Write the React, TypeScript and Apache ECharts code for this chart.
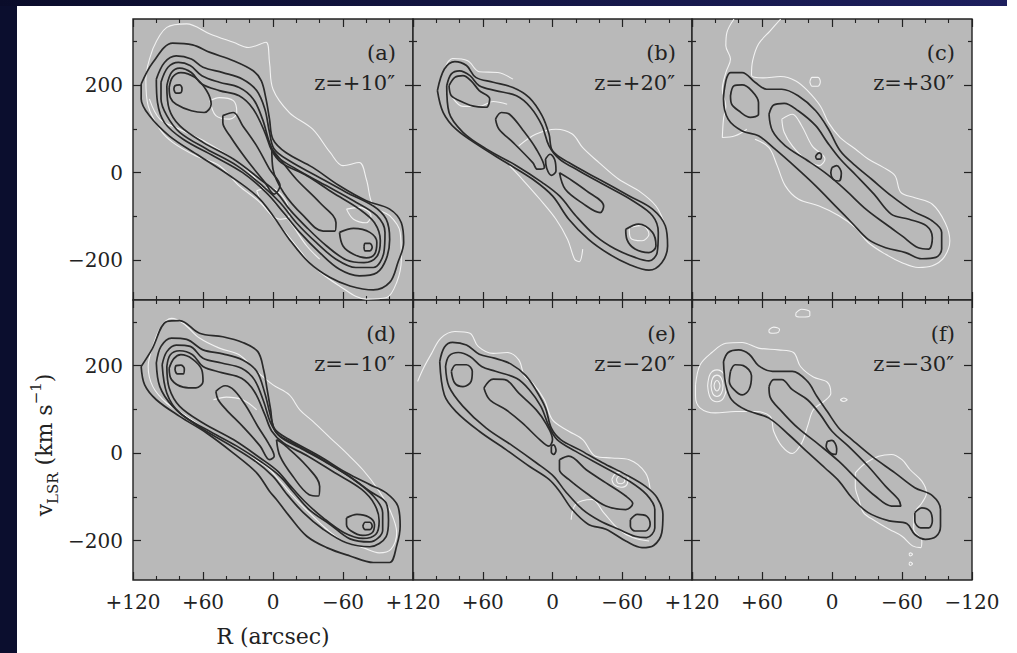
import { useEffect, useRef } from "react";
import * as echarts from "echarts";

type Pt = [number, number];

// ---------- panel (a) z=+10″ : [R arcsec, v km/s] ----------
const aB1: Pt[] = [[113,202],[103,251],[86,295],[69,291],[54,274],[34,255],[17,232],[10,209],[6,168],[3,122],[0,76],[-11,46],[-34,12],[-57,-30],[-80,-64],[-100,-83],[-110,-114],[-112,-159],[-107,-205],[-100,-250],[-86,-267],[-66,-258],[-49,-239],[-31,-205],[-14,-152],[0,-98],[14,-53],[37,-7],[63,38],[89,84],[106,130],[113,168]];
const aB2: Pt[] = [[100,213],[93,251],[83,266],[70,259],[60,240],[43,228],[26,213],[14,187],[7,145],[3,92],[-1,54],[-14,27],[-37,-7],[-63,-45],[-86,-76],[-97,-106],[-100,-152],[-97,-197],[-89,-228],[-74,-235],[-57,-220],[-40,-182],[-23,-136],[-9,-91],[6,-45],[26,0],[51,38],[77,76],[93,114],[99,160]];
const aB3: Pt[] = [[96,206],[90,240],[81,251],[71,244],[61,221],[46,206],[29,194],[17,168],[9,122],[3,69],[-3,38],[-20,8],[-46,-30],[-69,-64],[-89,-98],[-96,-136],[-95,-182],[-86,-216],[-71,-216],[-54,-197],[-37,-159],[-20,-114],[-6,-68],[9,-30],[31,16],[57,54],[80,92],[91,130],[96,168]];
const aB4: Pt[] = [[91,198],[87,228],[80,238],[70,228],[61,202],[46,187],[29,175],[17,145],[7,92],[1,50],[-7,23],[-29,-7],[-51,-45],[-74,-83],[-87,-114],[-92,-155],[-89,-191],[-78,-205],[-63,-199],[-46,-167],[-29,-125],[-14,-83],[-3,-45],[11,-15],[34,31],[60,69],[80,107],[89,145]];
const aB5u: Pt[] = [[89,194],[86,218],[79,228],[67,217],[57,187],[53,156],[59,137],[70,141],[83,156],[88,171]];
const aB6u: Pt[] = [[85,190],[84,198],[80,200],[78,192],[79,182],[83,181]];
const aT1: Pt[] = [[43,130],[34,137],[26,107],[14,61],[3,8],[-6,-30],[-1,-49],[7,-22],[23,31],[37,84],[43,114]];
const aB5d: Pt[] = [[-57,-136],[-69,-127],[-83,-136],[-89,-159],[-87,-186],[-80,-194],[-69,-186],[-60,-167]];
const aB6d: Pt[] = [[-78,-169],[-79,-161],[-83,-161],[-85,-170],[-83,-178],[-79,-178]];
const aT2: Pt[] = [[1,54],[-6,31],[-20,-15],[-40,-68],[-54,-114],[-53,-133],[-43,-133],[-26,-98],[-9,-45],[0,8]];
const aW1: Pt[] = [[103,282],[91,331],[74,339],[54,316],[34,297],[21,285],[6,297],[3,251],[0,190],[-14,137],[-34,99],[-49,46],[-60,16],[-74,23],[-80,-15],[-86,-76],[-100,-98],[-109,-136],[-110,-197],[-106,-250],[-97,-285],[-80,-288],[-57,-258],[-34,-212],[-20,-167],[-6,-121],[11,-68],[29,-30],[46,16],[66,38],[86,69],[97,99],[107,152],[109,213]];
const aW2: Pt[] = [[106,168],[97,122],[80,99],[57,69],[34,31],[17,-7],[6,-45],[-6,-83],[-17,-121],[-29,-167],[-40,-197]];
const aW3: Pt[] = [[54,164],[46,171],[34,164],[31,137],[37,122],[49,130]];
const aW4: Pt[] = [[-63,-83],[-74,-79],[-84,-98],[-80,-114],[-69,-106]];
const aW5: Pt[] = [[14,-41],[3,-34],[-10,-60],[-14,-98],[-6,-106],[7,-79]];

// ---------- panel (b) z=+20″ ----------
const bB1: Pt[] = [[99,187],[93,236],[84,253],[74,244],[66,217],[51,206],[34,194],[20,171],[9,130],[3,88],[0,50],[-14,23],[-40,-15],[-66,-53],[-86,-83],[-97,-121],[-99,-167],[-94,-205],[-83,-222],[-66,-209],[-49,-186],[-31,-152],[-14,-106],[0,-53],[17,-15],[40,23],[63,61],[83,99],[94,137]];
const bB2: Pt[] = [[91,198],[87,225],[80,232],[71,221],[63,198],[49,187],[31,175],[19,149],[9,107],[3,61],[-6,31],[-23,4],[-46,-30],[-69,-64],[-86,-98],[-91,-136],[-90,-182],[-83,-201],[-71,-193],[-54,-174],[-37,-144],[-20,-98],[-6,-53],[9,-22],[31,16],[57,54],[77,92],[89,137]];
const bB3: Pt[] = [[89,198],[84,217],[77,221],[70,209],[63,187],[54,168],[57,149],[69,152],[80,164],[87,175]];
const bT1: Pt[] = [[49,122],[44,137],[37,133],[26,99],[14,54],[7,12],[13,8],[17,23],[34,69],[46,99]];
const bS: Pt[] = [[6,31],[2,42],[-2,29],[-3,4],[1,-6],[5,10]];
const bT2: Pt[] = [[-6,0],[-14,-13],[-29,-41],[-44,-76],[-41,-91],[-26,-70],[-11,-38]];
const bB4: Pt[] = [[-63,-129],[-74,-117],[-86,-136],[-89,-167],[-83,-182],[-71,-174],[-64,-152]];
const bW1: Pt[] = [[93,236],[86,260],[73,255],[63,230],[47,228],[34,213]];
const bW2: Pt[] = [[29,61],[14,88],[-3,99],[-17,88],[-26,57],[-40,23],[-57,-15],[-74,-41],[-89,-76],[-97,-121]];
const bW3: Pt[] = [[37,16],[26,-15],[11,-60],[-3,-106],[-13,-152],[-19,-197],[-23,-203],[-26,-174]];
const bW4: Pt[] = [[86,171],[77,151],[63,151],[51,162],[39,156]];
const bW5: Pt[] = [[-66,-125],[-77,-120],[-83,-140],[-77,-155],[-67,-148]];

// ---------- panel (c) z=+30″ ----------
const cB1: Pt[] = [[91,209],[87,228],[77,228],[66,206],[56,190],[43,190],[29,175],[14,141],[3,99],[-7,50],[-20,16],[-34,-15],[-51,-53],[-69,-87],[-86,-110],[-94,-136],[-94,-174],[-89,-193],[-77,-196],[-63,-182],[-46,-171],[-31,-152],[-17,-114],[-3,-76],[14,-30],[31,12],[49,54],[63,84],[77,95],[89,122],[93,168]];
const cB2: Pt[] = [[87,175],[84,198],[77,200],[69,187],[63,160],[63,133],[70,126],[80,141],[86,156]];
const cB3: Pt[] = [[54,133],[50,154],[41,158],[29,141],[14,107],[4,69],[-7,31],[-21,-7],[-36,-49],[-51,-95],[-66,-106],[-81,-121],[-86,-148],[-83,-174],[-74,-171],[-60,-144],[-46,-117],[-29,-83],[-11,-38],[6,0],[23,31],[40,61],[51,95]];
const cS1: Pt[] = [[14,38],[11,45],[9,40],[10,31],[13,31]];
const cS2: Pt[] = [[0,12],[-4,16],[-8,-1],[-6,-19],[-1,-15],[1,0]];
const cW1: Pt[] = [[84,350],[90,320],[91,289],[87,259],[91,228],[94,190],[91,152],[93,122],[94,80],[83,84],[73,99]];
const cW2: Pt[] = [[44,350],[53,323],[63,293],[68,255],[69,222],[59,216],[44,219],[31,209],[21,187],[10,152],[3,114],[-7,80],[-20,54],[-31,31],[-44,12],[-54,-7],[-59,-45],[-71,-57],[-86,-72],[-97,-114],[-101,-155],[-96,-193],[-86,-212],[-74,-216],[-60,-205],[-46,-186],[-31,-159],[-20,-125],[-6,-98],[11,-76],[29,-60],[40,-30],[47,16],[54,57],[66,76]];
const cW3: Pt[] = [[19,207],[17,217],[12,217],[10,207],[12,197],[17,197]];
const cW4: Pt[] = [[43,122],[34,133],[26,107],[17,61],[6,31],[11,16],[23,31],[34,61],[41,92]];

// ---------- panel (d) z=−10″ ----------
const dB1: Pt[] = [[113,198],[104,236],[91,301],[80,303],[63,274],[43,266],[26,253],[13,232],[8,190],[5,145],[2,99],[-1,57],[-14,31],[-40,-7],[-63,-45],[-83,-72],[-97,-91],[-107,-121],[-109,-167],[-106,-212],[-100,-250],[-86,-250],[-66,-235],[-46,-216],[-29,-190],[-14,-144],[-3,-106],[3,-87],[14,-45],[34,0],[57,46],[80,84],[100,122],[110,156]];
const dB2: Pt[] = [[100,206],[96,244],[87,263],[74,260],[60,236],[43,227],[26,213],[14,187],[7,137],[2,84],[-3,46],[-17,23],[-40,-11],[-63,-49],[-83,-87],[-97,-114],[-99,-153],[-97,-191],[-83,-214],[-63,-205],[-43,-174],[-26,-136],[-11,-91],[0,-53],[17,-15],[40,23],[66,65],[86,107],[97,152]];
const dB3: Pt[] = [[95,202],[91,232],[83,247],[71,244],[60,217],[44,206],[27,194],[16,168],[8,118],[2,69],[-6,38],[-23,12],[-46,-22],[-69,-60],[-86,-98],[-94,-136],[-94,-176],[-83,-203],[-66,-196],[-49,-163],[-31,-129],[-17,-87],[-6,-53],[9,-22],[31,16],[57,54],[80,92],[91,137]];
const dB4: Pt[] = [[91,198],[88,225],[80,234],[69,225],[60,198],[44,184],[27,171],[16,141],[7,88],[1,50],[-9,23],[-30,-7],[-53,-45],[-76,-83],[-87,-117],[-91,-155],[-88,-186],[-77,-195],[-61,-182],[-43,-148],[-27,-110],[-14,-72],[-4,-41],[11,-11],[34,31],[60,69],[80,107],[89,149]];
const dB5u: Pt[] = [[89,194],[85,216],[79,225],[69,215],[61,190],[60,164],[66,149],[77,151],[87,168]];
const dB6u: Pt[] = [[84,190],[83,200],[79,201],[76,193],[77,181],[82,181]];
const dT1: Pt[] = [[49,141],[41,154],[33,143],[23,107],[13,61],[4,23],[-1,-7],[3,-15],[11,16],[26,61],[40,99],[47,122]];
const dT2: Pt[] = [[-3,31],[-11,16],[-29,-30],[-40,-76],[-39,-98],[-31,-95],[-17,-53],[-6,-7]];
const dB5d: Pt[] = [[-63,-148],[-72,-140],[-82,-146],[-87,-163],[-85,-182],[-77,-188],[-67,-178],[-63,-163]];
const dB6d: Pt[] = [[-77,-167],[-79,-158],[-83,-158],[-85,-167],[-83,-175],[-79,-175]];
const dW1: Pt[] = [[103,244],[96,289],[87,308],[77,297],[63,263],[46,240],[29,225],[14,187],[0,156],[-14,133],[-23,99],[-34,73],[-49,35],[-63,0],[-77,-38],[-90,-83],[-100,-129],[-106,-182],[-101,-220],[-91,-228],[-77,-216],[-60,-201],[-46,-174],[-31,-136],[-17,-98],[-6,-64],[6,-30],[26,0],[49,38],[74,84],[91,114],[103,152],[107,198]];
const dW2: Pt[] = [[51,122],[40,128],[26,122],[14,99]];

// ---------- panel (e) z=−20″ ----------
const eB1: Pt[] = [[97,209],[93,242],[86,253],[74,247],[63,226],[50,217],[36,204],[23,177],[14,143],[6,103],[1,57],[-7,31],[-23,8],[-43,-22],[-63,-49],[-80,-76],[-90,-102],[-95,-140],[-94,-182],[-87,-211],[-77,-216],[-63,-201],[-46,-174],[-31,-163],[-17,-129],[-6,-87],[3,-60],[20,-30],[40,8],[63,50],[83,95],[93,133]];
const eB2: Pt[] = [[92,198],[89,222],[81,230],[71,221],[61,198],[49,187],[31,171],[20,145],[10,107],[3,61],[-4,31],[-20,4],[-43,-30],[-66,-64],[-81,-95],[-88,-129],[-88,-171],[-81,-193],[-71,-190],[-57,-174],[-41,-155],[-26,-129],[-11,-87],[-1,-53],[14,-22],[34,16],[57,57],[77,107],[89,152]];
const eR1: Pt[] = [[87,187],[83,202],[74,202],[69,187],[70,164],[77,152],[84,160]];
const eR2: Pt[] = [[-67,-152],[-73,-140],[-81,-144],[-84,-163],[-80,-178],[-71,-178],[-67,-167]];
const eT1: Pt[] = [[59,149],[51,169],[41,168],[29,137],[14,99],[6,69],[0,31],[3,16],[11,31],[26,69],[40,99],[54,122]];
const eT2: Pt[] = [[-6,-15],[-14,-7],[-29,-38],[-46,-68],[-63,-98],[-69,-115],[-63,-129],[-46,-121],[-29,-91],[-14,-60],[-6,-38]];
const eS: Pt[] = [[1,16],[-1,19],[-3,6],[-1,-3],[1,2]];
const eW1: Pt[] = [[116,164],[111,194],[104,228],[96,263],[84,278],[71,274],[64,244],[51,228],[39,230],[29,213],[24,175],[17,160],[7,122],[0,76],[-14,50],[-26,31],[-37,-7],[-51,-11],[-66,-15],[-80,-45],[-84,-83]];
const eW2: Pt[] = [[-16,-152],[-20,-117],[-34,-106],[-44,-136],[-57,-174],[-69,-193],[-83,-201]];
const eW3: Pt[] = [[-51,-60],[-54,-47],[-60,-44],[-65,-54],[-64,-72],[-59,-78],[-53,-72]];
const eW4: Pt[] = [[-55,-60],[-57,-53],[-61,-54],[-62,-64],[-59,-70],[-56,-68]];

// ---------- panel (f) z=−30″ ----------
const fB1: Pt[] = [[93,209],[89,230],[80,236],[71,226],[63,200],[51,187],[34,187],[21,164],[13,130],[4,95],[-6,57],[-17,31],[-34,-7],[-54,-45],[-71,-79],[-86,-97],[-93,-129],[-93,-167],[-89,-191],[-80,-197],[-71,-186],[-64,-161],[-49,-155],[-31,-136],[-17,-102],[-6,-64],[6,-34],[20,0],[37,42],[54,80],[74,99],[86,122],[91,156]];
const fB2: Pt[] = [[87,187],[83,202],[76,200],[69,177],[71,146],[77,133],[84,145],[88,164]];
const fB3: Pt[] = [[54,152],[50,168],[43,168],[34,145],[21,122],[10,88],[0,50],[-14,16],[-31,-30],[-46,-76],[-57,-106],[-59,-121],[-51,-121],[-37,-98],[-23,-64],[-6,-19],[11,19],[29,57],[43,95],[53,128]];
const fS: Pt[] = [[4,27],[0,29],[-4,10],[-3,-3],[1,0],[5,16]];
const fR: Pt[] = [[-71,-136],[-77,-125],[-84,-133],[-86,-155],[-83,-171],[-76,-171],[-71,-155]];
const fW1: Pt[] = [[117,156],[113,202],[103,230],[91,251],[77,253],[63,240],[46,236],[33,230],[27,198],[16,174],[4,162],[1,137],[7,118],[16,99],[21,61],[26,23],[34,-1],[43,16],[50,50],[53,84],[66,95],[83,95],[100,92],[113,103],[117,130]];
const fW2: Pt[] = [[106.6,153.9],[104.3,181.3],[98.6,190.4],[92.9,181.3],[90.6,153.9],[92.9,126.6],[98.6,117.4],[104.3,126.6]];
const fW3: Pt[] = [[103.7,153.9],[102.3,171.4],[98.6,178.2],[94.9,171.4],[93.4,153.9],[94.9,136.4],[98.6,129.6],[102.3,136.4]];
const fW4: Pt[] = [[101.1,154],[100.3,162],[98.6,166],[96.9,162],[96,154],[96.9,146],[98.6,142],[100.3,146]];
const fW5: Pt[] = [[31,320],[26,329],[19,323],[19,314],[26,311],[31,314]];
const fW6: Pt[] = [[54,282],[50,288],[45,283],[46,276],[50,274],[54,277]];
const fW7: Pt[] = [[-7,122],[-10,126],[-13,122],[-10,118]];
const fW8: Pt[] = [[-20,-45],[-29,-22],[-40,-7],[-51,-3],[-60,-15],[-67,-38],[-77,-64],[-81,-91],[-77,-114],[-71,-136],[-70,-174],[-77,-201],[-76,-216],[-69,-212],[-60,-190],[-49,-174],[-37,-155],[-27,-136],[-23,-106],[-20,-76]];
const fW9: Pt[] = [[-66,-231],[-67,-228],[-69,-231],[-67,-235]];
const fW10: Pt[] = [[-66,-253],[-67,-249],[-69,-253],[-67,-257]];

// contour groups per panel: closed black loops, closed white loops, open white lines
const blackLoops: Pt[][][] = [
  [aB1, aB2, aB3, aB4, aB5u, aB6u, aT1, aB5d, aB6d, aT2],
  [bB1, bB2, bB3, bT1, bS, bT2, bB4],
  [cB1, cB2, cB3, cS1, cS2],
  [dB1, dB2, dB3, dB4, dB5u, dB6u, dT1, dT2, dB5d, dB6d],
  [eB1, eB2, eR1, eR2, eT1, eT2, eS],
  [fB1, fB2, fB3, fS, fR],
];
const whiteLoops: Pt[][][] = [
  [aW1, aW3, aW4, aW5],
  [bW5],
  [cW3, cW4],
  [dW1],
  [eW3, eW4],
  [fW1, fW2, fW3, fW4, fW5, fW6, fW7, fW8, fW9, fW10],
];
const whiteLines: Pt[][][] = [
  [aW2],
  [bW1, bW2, bW3, bW4],
  [cW1, cW2],
  [dW2],
  [eW1, eW2],
  [],
];

const panelTags = ["(a)", "(b)", "(c)", "(d)", "(e)", "(f)"];
const offsetTags = ["z=+10″", "z=+20″", "z=+30″", "z=−10″", "z=−20″", "z=−30″"];
const rTicks = [-120, -60, 0, 60, 120];
const vMajor = [-200, 0, 200];
const vMinor = [-100, 100, 300];

const INK = "#222";
const FONT = '"DejaVu Serif", serif';
const colLeft = [133, 413, 692];
const colWidth = [280, 279, 280];
const rowTop = [19, 300];
const rowHeight = [281, 280];

const fmtR = (v: number) => (v > 0 ? "+" + v : v < 0 ? "−" + -v : "0");
const fmtV = (v: number) => (v < 0 ? "−" + -v : String(v));
const closeLoop = (pts: Pt[]): Pt[] => [...pts, pts[0]];

function buildOption() {
  const grid: any[] = [];
  const xAxis: any[] = [];
  const yAxis: any[] = [];
  const series: any[] = [];
  const graphic: any[] = [];

  for (let p = 0; p < 6; p++) {
    const row = p < 3 ? 0 : 1;
    const col = p % 3;
    grid.push({
      left: colLeft[col], top: rowTop[row], width: colWidth[col], height: rowHeight[row],
      show: true, backgroundColor: "#b9b9b9", borderColor: INK, borderWidth: 1.4,
    });
    for (const pos of ["bottom", "top"]) {
      const labelled = pos === "bottom" && row === 1;
      xAxis.push({
        gridIndex: p, type: "value", position: pos, inverse: true,
        min: rTicks[0], max: rTicks[rTicks.length - 1], interval: 60,
        axisLine: { show: false, onZero: false },
        splitLine: { show: false },
        axisTick: { show: true, inside: true, length: 8, lineStyle: { color: INK, width: 1.2 } },
        minorTick: { show: true, splitNumber: 3, length: 4, lineStyle: { color: INK, width: 1.1 } },
        axisLabel: {
          show: labelled, showMinLabel: true, showMaxLabel: true, margin: 12,
          fontFamily: FONT, fontSize: 20, color: INK,
          formatter: (v: number) => (v === -120 && p !== 5 ? "" : fmtR(v)),
        },
      });
    }
    for (const pos of ["left", "right"]) {
      for (const [vals, len] of [[vMajor, 8], [vMinor, 4]] as [number[], number][]) {
        yAxis.push({
          gridIndex: p, type: "value", position: pos, min: -290, max: 350,
          axisLine: { show: false, onZero: false },
          splitLine: { show: false },
          axisTick: { show: true, inside: true, length: len, customValues: vals, lineStyle: { color: INK, width: 1.2 } },
          axisLabel: {
            show: pos === "left" && col === 0 && vals === vMajor, customValues: vals,
            margin: 10, fontFamily: FONT, fontSize: 20, color: INK, formatter: fmtV,
          },
        });
      }
    }
    const base = { type: "line", xAxisIndex: 2 * p, yAxisIndex: 4 * p, showSymbol: false, symbol: "none", silent: true, smooth: 0.35, animation: false };
    for (const pts of whiteLines[p]) {
      series.push({ ...base, data: pts, z: 2, lineStyle: { color: "#f2f2f2", width: 1.1 } });
    }
    for (const pts of whiteLoops[p]) {
      series.push({ ...base, data: closeLoop(pts), z: 2, lineStyle: { color: "#f2f2f2", width: 1.1 } });
    }
    for (const pts of blackLoops[p]) {
      series.push({ ...base, data: closeLoop(pts), z: 3, lineStyle: { color: "#2a2a2a", width: 1.7 } });
    }
    const left = colLeft[col];
    const top = rowTop[row];
    graphic.push({
      type: "text", x: left + 263, y: top + 34, z: 10,
      style: { text: panelTags[p], align: "right", verticalAlign: "middle", fontFamily: FONT, fontSize: 21, fill: INK },
    });
    graphic.push({
      type: "text", x: left + 262, y: top + 64, z: 10,
      style: { text: offsetTags[p], align: "right", verticalAlign: "middle", fontFamily: FONT, fontSize: 21, fill: INK },
    });
  }

  // dark frame along the top and left edges
  graphic.push({ type: "rect", shape: { x: 0, y: 0, width: 17, height: 653 }, style: { fill: "#0b0e2e" }, z: 20 });
  graphic.push({
    type: "rect", shape: { x: 0, y: 0, width: 1007, height: 6 }, z: 20,
    style: { fill: new echarts.graphic.LinearGradient(0, 0, 1, 0, [{ offset: 0, color: "#0a0c2a" }, { offset: 1, color: "#1d1f5e" }]) },
  });

  // axis titles
  graphic.push({
    type: "text", x: 273, y: 636, z: 10,
    style: { text: "R (arcsec)", align: "center", verticalAlign: "middle", fontFamily: FONT, fontSize: 22, fill: INK },
  });
  graphic.push({
    type: "text", x: 44, y: 445, rotation: Math.PI / 2, z: 10,
    style: {
      text: "{a|v}{b|LSR}{a| (km s}{c|−1}{a|)}",
      align: "center", verticalAlign: "middle", fill: INK,
      rich: {
        a: { fontFamily: FONT, fontSize: 22, lineHeight: 32, fill: INK },
        b: { fontFamily: FONT, fontSize: 15, lineHeight: 15, verticalAlign: "bottom", fill: INK },
        c: { fontFamily: FONT, fontSize: 15, lineHeight: 15, verticalAlign: "top", fill: INK },
      },
    },
  });

  return { animation: false, backgroundColor: "#ffffff", grid, xAxis, yAxis, series, graphic };
}

export default function App() {
  const ref = useRef<HTMLDivElement>(null);
  useEffect(() => {
    if (!ref.current) return;
    const chart = echarts.init(ref.current, undefined, { renderer: "svg" });
    chart.setOption(buildOption());
    return () => chart.dispose();
  }, []);
  return (
    <div
      ref={ref}
      style={{ position: "absolute", left: 0, top: 0, width: 1017, height: 653, background: "#fff" }}
    />
  );
}
